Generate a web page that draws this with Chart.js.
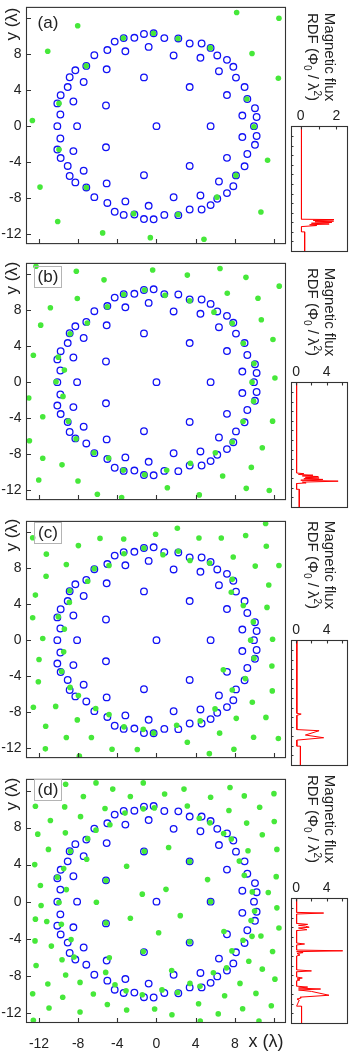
<!DOCTYPE html>
<html><head><meta charset="utf-8">
<script src="https://cdn.jsdelivr.net/npm/chart.js@4/dist/chart.umd.min.js"></script>
<style>
html,body{margin:0;padding:0;background:#fff;}
body{width:354px;height:1051px;position:relative;overflow:hidden;font-family:"Liberation Sans",Arial,sans-serif;color:#222;}
canvas{position:absolute;}
.lab{position:absolute;white-space:nowrap;}
.ytitle{font-size:17px;transform:translate(-50%,-50%) rotate(-90deg);}
.xtitle{font-size:18px;transform:translate(-50%,-50%);}
.plabel{font-size:17px;transform:translate(-50%,-50%);}
.pbox{position:absolute;border:1px solid #b4b4b4;box-sizing:border-box;}
.rtitle{font-size:15px;line-height:17px;text-align:center;transform:translate(-50%,-50%) rotate(90deg);}
sub,sup{font-size:10px;line-height:0;}
</style></head><body>
<script>
// ---------- data ----------
const xTicks = [-12, -8, -4, 0, 4, 8, 12];
const xTickLabels = ['-12', '-8', '-4', '0', '4', '8', ''];
const yTicks = [-12, -8, -4, 0, 4, 8, 12];
const yTickLabels = ['-12', '-8', '-4', '0', '4', '8', ''];
const panelNames = ['(a)', '(b)', '(c)', '(d)'];

// vortex positions (blue open circles), same in every panel
const vortexCore = [[0, 0]];
const vortexRing1 = [[5.53,0],[3.39,4.35],[3.39,-4.42],[-1.28,5.42],[-1.28,-5.45],[-5.16,2.3],[-5.16,-2.35]];
const vortexRing2 = [[-8.11,0],[-8.49,2.74],[-8.49,-2.77],[-7.44,4.91],[-7.44,-4.95],[-5.09,6.32],[-5.09,-6.36],
  [-3.18,8.32],[-3.18,-8.36],[-0.8,8.81],[-0.8,-8.85],[1.75,7.86],[1.75,-7.9],[4.49,7.6],[4.49,-7.7],
  [6.38,6.11],[6.38,-6.15],[7.2,3.46],[7.2,-3.52],[8.77,1.18],[8.77,-1.21]];
const vortexOuterLeft = [[-1.28,10.25],[-0.29,10.32],[-2.26,9.82],[-3.35,9.79],[-4.27,9.4],[-5.02,8.46],[-6.35,7.89],
  [-7.17,6.7],[-8.29,6.21],[-8.87,5.44],[-9.07,4.35],[-9.79,3.44],[-10.13,2.53],[-9.82,1.3],[-10.13,0],
  [-9.82,-1.37],[-10.13,-2.6],[-9.79,-3.54],[-9.07,-4.42],[-8.87,-5.54],[-8.29,-6.25],[-7.17,-6.81],
  [-6.35,-7.89],[-5.02,-8.53],[-4.27,-9.51],[-3.35,-9.86],[-2.26,-9.82],[-1.28,-10.32],[-0.29,-10.35]];
const vortexOuterRight = [[0.8,9.79],[2.23,9.75],[3.39,9.19],[4.61,9.19],[5.53,8.7],[6.21,7.86],[7.2,7.37],
  [7.85,6.6],[8.12,5.4],[9.0,4.35],[9.28,3.02],[10.06,2.0],[10.23,1.02],[9.96,0],[10.23,-1.09],
  [10.06,-2.07],[9.28,-3.09],[9.0,-4.46],[8.12,-5.47],[7.85,-6.67],[7.2,-7.44],[6.21,-8.07],
  [5.53,-8.77],[4.61,-9.26],[3.39,-9.26],[2.23,-9.89],[0.8,-9.86]];

// pinning sites (green dots), one list per panel
const pinsA = [[8.19,12.63],[12.51,12.0],[-8.05,11.16],[-11.11,8.32],[-0.32,10.32],[-3.39,9.79],[2.2,9.75],
  [5.5,8.7],[9.76,8.07],[-7.17,6.7],[12.45,5.33],[9.24,3.02],[-9.96,2.53],[-12.68,0.63],[9.96,-0.07],
  [-9.96,-2.6],[11.35,-3.79],[8.12,-5.47],[-11.9,-6.77],[-7.17,-6.81],[6.18,-7.89],[10.67,-9.54],
  [-2.33,-9.72],[2.2,-9.82],[-10.09,-10.6],[-5.5,-11.86],[-0.63,-12.39],[4.85,-12.56]];
const pinsB = [[-12.31,12.89],[-8.19,12.32],[-0.39,12.46],[6.49,12.64],[3.15,11.9],[9.14,11.65],[-5.36,11.37],
  [12.54,10.67],[-8.09,9.3],[-3.35,9.75],[-1.21,10.25],[0.87,9.65],[3.39,9.05],[7.23,9.89],[10.37,9.33],
  [-10.84,8.27],[-5.02,8.38],[5.87,7.78],[7.74,6.55],[-7.07,6.58],[10.71,6.94],[-11.83,6.34],[-8.83,5.39],
  [8.87,4.33],[11.9,4.75],[-12.58,2.99],[-10.03,2.78],[-9.41,1.34],[9.96,2.08],[12.1,0.46],[-10.26,0.04],
  [9.76,0],[-9.55,-1.58],[-13.05,-1.76],[9.92,-2.11],[-11.62,-3.84],[-9.0,-4.33],[8.84,-4.37],[11.86,-4.33],
  [-8.22,-6.3],[-12.98,-6.51],[7.74,-6.65],[10.81,-7.29],[-6.38,-7.85],[6.01,-7.85],[-11.62,-8.45],
  [-4.89,-8.42],[3.46,-9.01],[-9.65,-9.19],[9.69,-9.47],[-3.39,-9.79],[1.04,-9.79],[-1.21,-10.28],
  [6.76,-10.42],[-12.03,-10.88],[-8.02,-10.99],[1.11,-11.73],[9.17,-11.8],[11.52,-12.04],[-6.04,-12.46],
  [4.37,-12.53],[-3.56,-12.82]];
const pinsC = [[11.15,12.96],[-12.65,11.38],[-5.77,11.31],[-3.35,11.24],[-0.09,11.77],[2.13,12.44],[4.34,11.35],
  [6.62,11.35],[9.11,11.63],[-7.98,10.51],[-3.32,9.6],[-1.28,10.23],[0.66,9.49],[2.23,9.88],[3.42,8.86],
  [5.43,8.58],[11.22,10.44],[-11.25,9.56],[-9.21,8.41],[-4.85,8.3],[-6.35,7.95],[7.84,9.25],[10.09,8.23],
  [12.51,8.3],[-11.28,7.11],[-7.03,6.55],[7.74,6.76],[11.47,6.13],[-12.37,5.01],[-8.87,5.5],[7.64,5.32],
  [-8.9,4.2],[8.87,3.85],[11.29,3.64],[-12.65,2.49],[-10.03,2.59],[-9.41,1.23],[9.89,2.03],[-11.62,0.18],
  [9.62,0],[11.86,0.11],[-9.48,-1.3],[-12.0,-2.14],[9.96,-2.0],[11.79,-2.87],[-9.69,-3.47],[6.83,-3.29],
  [-12.07,-4.62],[9.07,-4.27],[-8.83,-5.25],[7.74,-5.53],[11.83,-5.64],[-7.98,-6.16],[9.79,-6.9],
  [-12.58,-7.46],[-10.3,-7.36],[-6.21,-7.6],[5.98,-7.64],[-4.85,-8.27],[-8.09,-8.86],[8.15,-8.69],
  [11.18,-8.58],[-11.32,-9.56],[-3.32,-9.63],[-1.35,-9.91],[-0.29,-10.33],[2.06,-9.46],[4.47,-8.97],
  [6.45,-10.33],[-9.21,-10.82],[-6.65,-10.82],[3.15,-11.35],[9.92,-10.79],[12.45,-10.93],[-11.35,-12.08],
  [-4.54,-12.12],[-1.96,-12.15],[5.4,-12.61],[7.91,-12.12],[-7.88,-12.89]];
const pinsD = [[-1.35,12.82],[-6.18,12.82],[-9.28,12.68],[-4.47,12.15],[2.81,12.15],[7.51,12.33],[12.0,11.66],
  [-7.47,11.35],[-2.67,11.35],[0.83,11.63],[5.53,11.28],[8.97,11.42],[-12.37,10.3],[-9.38,10.23],
  [-5.26,10.05],[-3.22,9.56],[-1.35,10.02],[-0.22,10.12],[3.15,10.33],[7.4,9.84],[10.54,10.2],[-7.76,9.18],
  [-4.76,8.3],[4.37,9.0],[5.46,8.51],[-10.84,8.76],[12.03,8.65],[9.21,8.48],[-12.13,7.29],[-9.31,7.43],
  [-6.18,7.72],[-7.03,6.8],[7.64,6.76],[10.81,7.22],[-11.04,5.64],[-8.8,5.43],[-1.24,5.43],[1.24,5.85],
  [6.86,7.36],[9.35,5.5],[12.3,5.64],[-12.44,4.0],[-7.13,4.58],[-3.05,3.82],[3.39,4.34],[8.46,4.38],
  [-9.48,3.57],[8.97,2.84],[12.23,2.7],[-10.13,2.63],[-5.16,2.28],[5.22,2.38],[-11.86,1.75],[0.97,1.33],
  [-1.45,0.81],[-9.21,1.3],[9.79,1.05],[11.42,0.98],[-6.14,-0.07],[-9.96,-0.1],[5.53,0],[-11.79,-0.42],
  [12.3,-0.67],[-12.37,-1.89],[-2.67,-1.79],[2.43,-1.51],[10.02,-1.02],[-11.21,-2.14],[-9.72,-2.45],
  [-5.16,-2.31],[9.66,-2.03],[12.51,-2.84],[0.22,-3.36],[6.89,-3.22],[9.76,-3.75],[-12.41,-4.24],
  [-8.73,-4.1],[3.39,-4.34],[8.84,-4.17],[10.67,-3.71],[-10.74,-4.8],[-1.35,-5.39],[7.71,-5.32],
  [11.86,-5.39],[-9.65,-6.27],[-4.82,-6.06],[-8.43,-5.99],[9.43,-6.44],[-12.3,-6.9],[-5.19,-7.64],
  [1.55,-7.43],[5.81,-7.67],[10.81,-7.29],[-9.28,-7.92],[7.16,-7.15],[12.1,-8.37],[-11.1,-8.9],
  [-7.81,-8.72],[-4.24,-8.97],[3.42,-8.83],[8.53,-8.83],[-3.11,-9.63],[0.56,-9.53],[2.16,-9.81],
  [4.44,-9.14],[-12.65,-9.95],[-6.45,-9.98],[-1.45,-10.05],[6.96,-10.16],[10.16,-9.91],[-9.58,-10.33],
  [-5.02,-11.1],[4.3,-11.03],[-10.98,-11.49],[-3.05,-11.7],[-0.19,-11.59],[8.8,-11.56],[11.73,-11.24],
  [-7.81,-11.91],[1.58,-12.22],[6.31,-12.12],[-12.58,-12.82],[4.47,-12.89],[10.47,-12.89]];

// magnetic-flux radial distribution: radius r and value v
const rdfA_r = [0, 9.68, 9.72, 9.8, 9.88, 9.95, 10.02, 10.1, 10.18, 10.26, 10.34, 10.45, 11.0, 11.0, 13.05];
const rdfA_v = [0.04, 0.04, 1.87, 0.7, 1.85, 0.8, 1.75, 0.6, 1.6, 0.5, 0.9, 0.04, 0.04, 0.22, 0.22];
const rdfB_r = [0, 9.45, 9.52, 9.6, 9.68, 9.75, 9.82, 9.9, 9.97, 10.05, 10.12, 10.2, 10.3, 10.4, 10.48, 10.55, 11.15, 11.15, 13.05];
const rdfB_v = [0.05, 0.05, 1.0, 0.3, 2.2, 0.8, 2.9, 1.2, 3.0, 1.0, 3.5, 0.6, 5.5, 0.8, 1.3, 0.05, 0.05, 0.4, 0.4];
const rdfC_r = [0, 7.6, 7.68, 7.82, 9.3, 9.42, 9.87, 10.15, 10.4, 11.03, 11.03, 13.05];
const rdfC_v = [0.08, 0.08, 0.65, 0.08, 0.08, 3.0, 1.2, 3.6, 0.08, 0.08, 0.55, 0.55];
const rdfD_r = [0, 1.45, 1.52, 1.62, 2.6, 2.7, 2.8, 2.88, 3.0, 3.08, 3.18, 3.26, 3.35, 4.65, 4.75, 4.85, 5.38, 5.46, 5.55,
  5.65, 5.75, 5.9, 6.0, 7.45, 7.56, 7.65, 8.2, 8.3, 8.4, 8.5, 8.6, 9.15, 9.25, 9.35, 9.45, 9.55, 9.7, 10.1, 10.3,
  10.4, 10.5, 10.6, 11.24, 11.24, 13.05];
const rdfD_v = [0.05, 0.05, 3.6, 0.05, 0.05, 1.5, 0.3, 1.2, 1.7, 0.3, 1.0, 1.4, 0.05, 0.05, 1.1, 0.05, 0.05, 6.1, 0.05,
  0.9, 0.1, 0.5, 0.05, 0.05, 2.0, 0.05, 0.05, 0.8, 0.1, 0.5, 0.05, 0.05, 1.5, 0.3, 3.2, 0.3, 2.0, 4.3, 0.5,
  0.6, 0.1, 0.4, 0.05, 0.7, 0.7];

const rdfTicksA = [0, 2], rdfMinorA = [0, 1, 2];
const rdfTicksB = [0, 4], rdfMinorB = [0, 2, 4, 6];
const rdfRadTicks = [1, 2, 3, 4, 5, 6, 7, 8, 9, 10, 11, 12];

// ---------- layout ----------
const FONT = '"Liberation Sans", Arial, sans-serif';
const panelTop = [0.5, 256.5, 514.5, 772.5];
const boxH = 250;
const yTitleOff = [23, 21, 20, 21];
const labelOff = [22, 20, 18, 17];
const rTitleOff = [56, 55, 50, 46];
const pins = [pinsA, pinsB, pinsC, pinsD];
const rdfR = [rdfA_r, rdfB_r, rdfC_r, rdfD_r];
const rdfV = [rdfA_v, rdfB_v, rdfC_v, rdfD_v];
const vortices = [].concat(vortexCore, vortexRing1, vortexRing2, vortexOuterLeft, vortexOuterRight);
const toXY = a => a.map(p => ({x: p[0], y: p[1]}));

const framePlugin = {
  id: 'frame',
  afterDraw(chart, args, o) {
    const {ctx, chartArea: a, scales} = chart;
    ctx.save();
    ctx.strokeStyle = '#333';
    ctx.lineWidth = 1.1;
    ctx.strokeRect(a.left, a.top, a.right - a.left, a.bottom - a.top);
    ctx.beginPath();
    (o.xMarks || []).forEach(v => {
      const p = Math.round(scales.x.getPixelForValue(v)) + 0.5;
      if (o.xTop) { ctx.moveTo(p, a.top); ctx.lineTo(p, a.top + o.xLen); }
      else { ctx.moveTo(p, a.bottom); ctx.lineTo(p, a.bottom - o.xLen); }
    });
    (o.yMarks || []).forEach(v => {
      const p = Math.round(scales.y.getPixelForValue(v)) + 0.5;
      ctx.moveTo(a.left, p); ctx.lineTo(a.left + o.yLen, p);
    });
    ctx.stroke();
    ctx.restore();
  }
};

function addDiv(cls, html, x, y) {
  const d = document.createElement('div');
  d.className = 'lab ' + cls;
  d.innerHTML = html;
  d.style.left = x + 'px';
  d.style.top = y + 'px';
  document.body.appendChild(d);
  return d;
}
function addCanvas(l, t, w, h) {
  const c = document.createElement('canvas');
  c.width = w; c.height = h;
  c.style.left = l + 'px'; c.style.top = t + 'px';
  c.style.width = w + 'px'; c.style.height = h + 'px';
  document.body.appendChild(c);
  return c;
}

for (let i = 0; i < 4; i++) {
  const T = panelTop[i];
  const last = i === 3;
  const cTop = T - 6.5;
  const cH = last ? 1051 - cTop : boxH + 13;
  const mainC = addCanvas(0, cTop, 291, cH);
  new Chart(mainC, {
    type: 'scatter',
    data: {datasets: [
      {data: toXY(pins[i]), pointRadius: 2.8, pointBorderWidth: 0, backgroundColor: 'rgb(70,232,58)', order: 0},
      {data: toXY(vortices), pointRadius: 3.3, pointBorderWidth: 1.3, borderColor: 'rgb(18,18,245)', backgroundColor: 'rgba(0,0,0,0)', order: 1}
    ]},
    options: {
      responsive: false, animation: false, devicePixelRatio: 1, events: [],
      layout: {padding: {top: 6.5, right: 5.5, left: 0, bottom: last ? 0 : 6.5}},
      plugins: {legend: {display: false}, tooltip: {enabled: false},
        frame: {xMarks: xTicks, yMarks: yTicks, xLen: 4.5, yLen: 4.5}},
      scales: {
        x: {type: 'linear', min: -13.28, max: 13.18, display: last,
          grid: {display: false}, border: {display: false},
          afterBuildTicks: s => { s.ticks = xTicks.map(v => ({value: v})); },
          afterFit: s => { s.height = last ? cH - 6.5 - boxH : 0; },
          ticks: {autoSkip: false, maxRotation: 0, padding: 5, color: '#222',
            font: {family: FONT, size: 14},
            callback: v => xTickLabels[xTicks.indexOf(v)]}},
        y: {type: 'linear', min: -13.05, max: 13.2,
          grid: {display: false, drawTicks: false}, border: {display: false},
          afterBuildTicks: s => { s.ticks = yTicks.map(v => ({value: v})); },
          afterFit: s => { s.width = 26.5; },
          ticks: {autoSkip: false, padding: 5, color: '#222',
            font: {family: FONT, size: 14},
            callback: v => yTickLabels[yTicks.indexOf(v)]}}
      }
    },
    plugins: [framePlugin]
  });

  // RDF side plot
  const rdfC = addCanvas(286, T + 105, 66, 147);
  const ticksTop = i === 0 ? rdfTicksA : rdfTicksB;
  const minorTop = i === 0 ? rdfMinorA : rdfMinorB;
  const xr = i === 0 ? [-0.52, 2.63] : [-0.62, 6.73];
  new Chart(rdfC, {
    type: 'scatter',
    data: {datasets: [{
      data: rdfR[i].map((r, k) => ({x: rdfV[i][k], y: r})),
      showLine: true, borderColor: 'rgb(255,0,0)', borderWidth: 1, pointRadius: 0, tension: 0
    }]},
    options: {
      responsive: false, animation: false, devicePixelRatio: 1, events: [],
      layout: {padding: {top: 0, right: 4.5, left: 5.5, bottom: 1.5}},
      plugins: {legend: {display: false}, tooltip: {enabled: false},
        frame: {xMarks: minorTop, xTop: true, xLen: 3, yMarks: rdfRadTicks, yLen: 2}},
      scales: {
        x: {type: 'linear', position: 'top', min: xr[0], max: xr[1],
          grid: {display: false, drawTicks: false}, border: {display: false},
          afterBuildTicks: s => { s.ticks = ticksTop.map(v => ({value: v})); },
          afterFit: s => { s.height = 20.5; },
          ticks: {autoSkip: false, maxRotation: 0, padding: 2, color: '#222',
            font: {family: FONT, size: 14}}},
        y: {type: 'linear', min: 0, max: 13.05, reverse: true, display: false}
      }
    },
    plugins: [framePlugin]
  });

  // texts
  addDiv('ytitle', 'y (&lambda;)', 12, T + yTitleOff[i]);
  if (i > 0) {
    const b = document.createElement('div');
    b.className = 'pbox';
    b.style.left = '34px'; b.style.top = (T + labelOff[i] - 11) + 'px';
    b.style.width = '28px'; b.style.height = '22px';
    document.body.appendChild(b);
  }
  addDiv('plabel', panelNames[i], 48, T + labelOff[i]);
  addDiv('rtitle', 'Magnetic flux<br>RDF (&Phi;<sub>0</sub> / &lambda;<sup>2</sup>)', 321.5, T + rTitleOff[i]);
}
addDiv('xtitle', 'x (&lambda;)', 266, 1041);
</script>
</body></html>
